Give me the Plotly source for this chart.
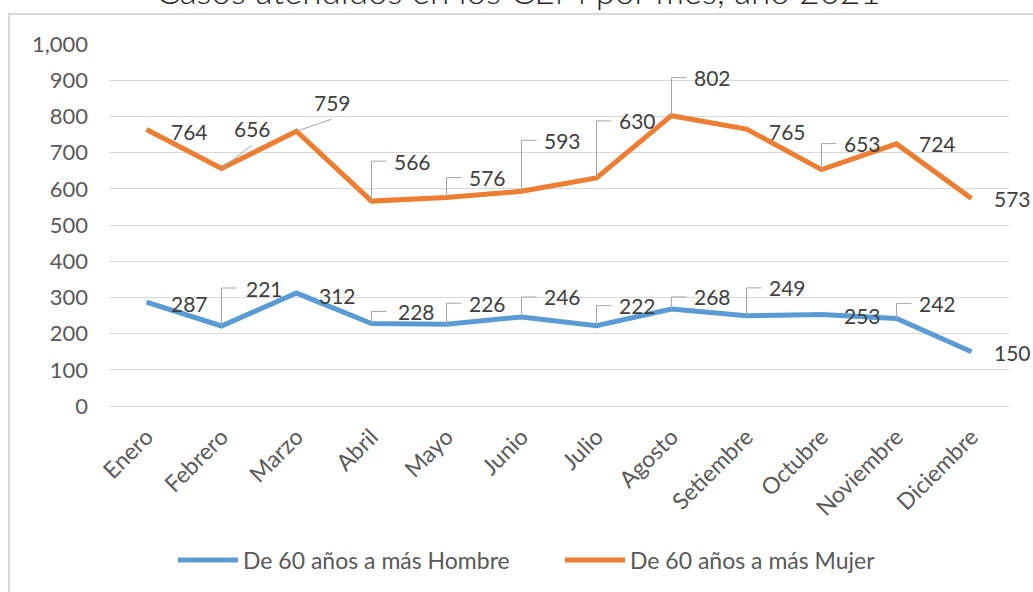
import plotly.graph_objects as go

# ---------------- data ----------------
meses = ["Enero", "Febrero", "Marzo", "Abril", "Mayo", "Junio", "Julio",
         "Agosto", "Setiembre", "Octubre", "Noviembre", "Diciembre"]
hombre = [287, 221, 312, 228, 226, 246, 222, 268, 249, 253, 242, 150]
mujer = [764, 656, 759, 566, 576, 593, 630, 802, 765, 653, 724, 573]
y_ticks = [0, 100, 200, 300, 400, 500, 600, 700, 800, 900, 1000]
titulo = "Casos atendidos en los CEM por mes, año 2021"
nombres = ["De 60 años a más Hombre", "De 60 años a más Mujer"]

# ---------------- label placement (pixel offsets from the point) ----------------
# dx: label centre x offset, dy: label centre y offset (screen, down +), kind: '' none, 'e' elbow, 'd' diagonal
lab_h_dx = [43, 43, 41, 45, 41, 41, 41, 41, 41, 41, 41, 41]
lab_h_dy = [1, -38, 2, -12, -21, -20, -20, -12, -28, 1, -15, 1]
lab_h_kind = ["", "e", "", "e", "e", "e", "e", "e", "e", "", "e", ""]
lab_m_dx = [43, 31, 36, 41, 41, 41, 41, 41, 41, 41, 41, 41]
lab_m_dy = [2, -40, -29, -40, -20, -51, -57, -38, 2, -26, 0, 0]
lab_m_kind = ["", "d", "d", "e", "e", "e", "e", "e", "", "e", "", ""]

# ---------------- layout geometry ----------------
W, H = 1033, 592
ML, MR, MT, MB = 109, 24, 44, 186
PW = W - ML - MR
PH = H - MT - MB
XR = [-0.5, len(meses) - 0.5]
YR = [0, 1000]
PX_X = PW / (XR[1] - XR[0])
PX_Y = PH / (YR[1] - YR[0])

BLUE = "#5B9BD5"
ORANGE = "#ED7D31"
GRID = "#D9D9D9"
LEADER = "#A6A6A6"
TXT = "#595959"
LABTXT = "#404040"
FONT = "Lato, 'Open Sans', sans-serif"
COLORS = [BLUE, ORANGE]


def px_to_paper_x(px):
    return (px - ML) / PW


def px_to_paper_y(py):
    return (MT + PH - py) / PH


xs = list(range(len(meses)))

fig = go.Figure()
for serie, nombre, color in [(hombre, nombres[0], BLUE), (mujer, nombres[1], ORANGE)]:
    fig.add_trace(go.Scatter(x=xs, y=serie, mode="lines", name=nombre,
                             line=dict(color=color, width=5), hoverinfo="skip",
                             showlegend=False))


def leaders(vals, dxs, dys, kinds):
    lx, ly = [], []
    for i, v in enumerate(vals):
        k = kinds[i]
        if k == "e":
            yy = v - dys[i] / PX_Y
            lx += [i, i, i + 15 / PX_X, None]
            ly += [v, yy, yy, None]
        elif k == "d":
            lx += [i, i + (dxs[i] - 1) / PX_X, None]
            ly += [v, v - (dys[i] + 17) / PX_Y, None]
    return lx, ly


annotations = []
for vals, dxs, dys, kinds in [(hombre, lab_h_dx, lab_h_dy, lab_h_kind),
                              (mujer, lab_m_dx, lab_m_dy, lab_m_kind)]:
    lx, ly = leaders(vals, dxs, dys, kinds)
    fig.add_trace(go.Scatter(x=lx, y=ly, mode="lines", showlegend=False,
                             line=dict(color=LEADER, width=1), hoverinfo="skip"))
    for i, v in enumerate(vals):
        annotations.append(dict(
            x=i, y=v, xref="x", yref="y", text=f"{v:,}", showarrow=False,
            xanchor="center", yanchor="middle", xshift=dxs[i], yshift=-dys[i],
            font=dict(family=FONT, size=21, color=LABTXT)))

# title (partially cropped at the top, as in the reference)
annotations.append(dict(
    x=px_to_paper_x(518), y=px_to_paper_y(13), xref="paper", yref="paper",
    text=titulo, showarrow=False, xanchor="center", yanchor="bottom",
    font=dict(family=FONT, size=35, color="#262626", weight=300)))

# legend (drawn manually to match the long line samples)
shapes = [dict(type="rect", xref="paper", yref="paper",
               x0=px_to_paper_x(9), x1=1.2, y0=-1, y1=px_to_paper_y(14),
               line=dict(color=GRID, width=2), fillcolor="rgba(0,0,0,0)",
               layer="below")]
leg_x = [178, 565]
for k in range(2):
    shapes.append(dict(type="line", xref="paper", yref="paper",
                       x0=px_to_paper_x(leg_x[k]), x1=px_to_paper_x(leg_x[k] + 60),
                       y0=px_to_paper_y(560), y1=px_to_paper_y(560),
                       line=dict(color=COLORS[k], width=5)))
    annotations.append(dict(
        x=px_to_paper_x(leg_x[k] + 63), y=px_to_paper_y(560), xref="paper", yref="paper",
        text=nombres[k], showarrow=False, xanchor="left", yanchor="middle",
        font=dict(family=FONT, size=23, color=TXT)))

fig.update_layout(
    width=W, height=H,
    margin=dict(l=ML, r=MR, t=MT, b=MB, pad=0, autoexpand=False),
    paper_bgcolor="white", plot_bgcolor="white",
    showlegend=False,
    annotations=annotations,
    shapes=shapes,
)
fig.update_xaxes(range=XR, tickmode="array", tickvals=xs, ticktext=meses,
                 tickangle=-45, showgrid=False, zeroline=False, showline=False,
                 ticks="", ticklabelstandoff=12,
                 tickfont=dict(family=FONT, size=23, color=TXT),
                 fixedrange=True, automargin=False)
fig.update_yaxes(range=YR, tickmode="array", tickvals=y_ticks,
                 ticktext=[f"{t:,}" for t in y_ticks],
                 showgrid=True, gridcolor=GRID, gridwidth=1,
                 zeroline=True, zerolinecolor=GRID, zerolinewidth=1,
                 showline=False, ticks="", ticklabelstandoff=20,
                 tickfont=dict(family=FONT, size=22, color=TXT),
                 fixedrange=True, automargin=False)

fig.write_html("out.html", config={"displayModeBar": False},
               post_script="document.body.style.margin='0';document.body.style.padding='0';document.body.style.overflow='hidden';")
